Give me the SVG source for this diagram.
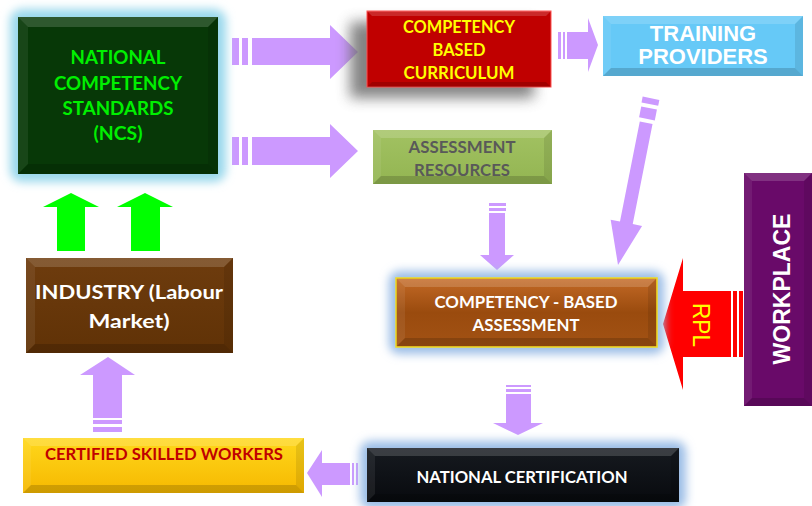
<svg xmlns="http://www.w3.org/2000/svg" width="812" height="506" viewBox="0 0 812 506">
  <defs>
    <filter id="glow" x="-30%" y="-30%" width="160%" height="160%">
      <feGaussianBlur stdDeviation="5"/>
    </filter>
    <filter id="shadow" x="-30%" y="-40%" width="160%" height="180%">
      <feGaussianBlur stdDeviation="7"/>
    </filter>
    <linearGradient id="gCba" x1="0" y1="0" x2="0" y2="1">
      <stop offset="0" stop-color="#c46a26"/>
      <stop offset="0.5" stop-color="#9a4b0e"/>
      <stop offset="1" stop-color="#a25214"/>
    </linearGradient>
    <linearGradient id="gCert" x1="0" y1="0" x2="0" y2="1">
      <stop offset="0" stop-color="#ffd81c"/>
      <stop offset="1" stop-color="#f6b800"/>
    </linearGradient>
    <linearGradient id="gInd" x1="0" y1="0" x2="0" y2="1">
      <stop offset="0" stop-color="#6e3c0e"/>
      <stop offset="1" stop-color="#603206"/>
    </linearGradient>
    <linearGradient id="gRes" x1="0" y1="0" x2="0" y2="1">
      <stop offset="0" stop-color="#a2c262"/>
      <stop offset="1" stop-color="#93b552"/>
    </linearGradient>
    <linearGradient id="gNat" x1="0" y1="0" x2="0" y2="1">
      <stop offset="0" stop-color="#161a20"/>
      <stop offset="1" stop-color="#080a0e"/>
    </linearGradient>
  </defs>
  <style>
    .bt { fill: #ffffff; opacity: 0.16; }
    .bl { fill: #ffffff; opacity: 0.07; }
    .br { fill: #000000; opacity: 0.09; }
    .bb { fill: #000000; opacity: 0.16; }
    .cal { font-family: Lato, "Open Sans", "Liberation Sans", sans-serif; font-weight: bold; text-anchor: middle; }
    .ari { font-family: "Liberation Sans", Arial, sans-serif; font-weight: bold; text-anchor: middle; }
    .flow { fill: #cc99ff; }
    .green { fill: #00ff00; }
  </style>

  <rect width="812" height="506" fill="#ffffff"/>

  <!-- connectors -->
  <g id="connectors">
    <!-- NCS to curriculum -->
    <g class="flow">
      <rect x="232" y="38" width="7" height="27"/>
      <rect x="242" y="38" width="6" height="27"/>
      <polygon points="252,38 330,38 330,25 358,52 330,79 330,65 252,65"/>
    </g>
    <!-- NCS to assessment resources -->
    <g class="flow">
      <rect x="232" y="137" width="7" height="28"/>
      <rect x="242" y="137" width="6" height="28"/>
      <polygon points="252,137 330,137 330,124 358,151 330,178 330,165 252,165"/>
    </g>
    <!-- curriculum to training providers -->
    <g class="flow">
      <rect x="558" y="32" width="3" height="27"/>
      <rect x="563" y="32" width="2" height="27"/>
      <polygon points="567,32 588,32 588,18 598,45 588,72 588,59 567,59"/>
    </g>
    <!-- training providers to assessment -->
    <g class="flow" transform="translate(618,265) rotate(11.2)">
      <rect x="-8.5" y="-170" width="17" height="6"/>
      <rect x="-8" y="-160" width="16" height="11"/>
      <polygon points="0,0 -16,-43 -6.5,-43 -6.5,-145 6.5,-145 6.5,-43 16,-43"/>
    </g>
    <!-- assessment resources to assessment -->
    <g class="flow">
      <rect x="489" y="203" width="17" height="3"/>
      <rect x="489" y="208" width="17" height="3"/>
      <polygon points="489,213 505,213 505,255 514,255 497,270 480,255 489,255"/>
    </g>
    <!-- assessment to national certification -->
    <g class="flow">
      <rect x="506" y="385" width="25" height="2"/>
      <rect x="506" y="389" width="25" height="3"/>
      <polygon points="506,394 531,394 531,423 543,423 518,435 493,423 506,423"/>
    </g>
    <!-- national certification to certified workers -->
    <g class="flow">
      <rect x="356" y="463" width="2" height="22"/>
      <rect x="352" y="463" width="2" height="22"/>
      <polygon points="350,463 322,463 322,450 307,473 322,497 322,485 350,485"/>
    </g>
    <!-- certified workers to industry -->
    <g class="flow">
      <rect x="93" y="420" width="29" height="4"/>
      <rect x="93" y="427" width="29" height="5"/>
      <polygon points="93,418 93,375 80,375 108,357 135,375 122,375 122,418"/>
    </g>
    <!-- industry to NCS -->
    <polygon class="green" points="57,251 57,207 43,207 71,193 99,207 85,207 85,251"/>
    <polygon class="green" points="131,251 131,207 117,207 145,193 173,207 160,207 160,251"/>
    <!-- RPL: workplace to assessment -->
    <g fill="#ff0000">
      <rect x="739" y="291" width="4" height="66"/>
      <rect x="733" y="291" width="4" height="66"/>
      <polygon points="663,324 683,258 683,291 731,291 731,357 683,357 683,390"/>
    </g>
    <text x="693" y="325" transform="rotate(90 693 325)" font-family="'Liberation Sans', Arial, sans-serif" font-size="24" fill="#ffff00" text-anchor="middle" textLength="44" lengthAdjust="spacingAndGlyphs">RPL</text>
  </g>

  <!-- National Competency Standards -->
  <g id="ncs">
    <rect x="10" y="9" width="216" height="173" rx="12" fill="#9ad8ec" filter="url(#glow)"/>
    <rect x="18" y="17" width="200" height="157" fill="#073807"/>
    <polygon class="bt" points="18,17 218,17 208,27 28,27"/>
    <polygon class="bl" points="18,17 28,27 28,164 18,174"/>
    <polygon class="br" points="218,17 208,27 208,164 218,174"/>
    <polygon class="bb" points="18,174 218,174 208,164 28,164"/>
    <g class="cal" font-size="18" fill="#00f000">
      <text x="118" y="64" textLength="95" lengthAdjust="spacingAndGlyphs">NATIONAL</text>
      <text x="118" y="90" textLength="128" lengthAdjust="spacingAndGlyphs">COMPETENCY</text>
      <text x="118" y="115" textLength="111" lengthAdjust="spacingAndGlyphs">STANDARDS</text>
      <text x="118" y="140" textLength="49" lengthAdjust="spacingAndGlyphs">(NCS)</text>
    </g>
  </g>

  <!-- Competency Based Curriculum -->
  <g id="curriculum">
    <rect x="350" y="22" width="184" height="76" fill="#6e6e6e" opacity="0.85" filter="url(#shadow)"/>
    <rect x="367" y="11" width="184" height="76" fill="#c00000" stroke="#ff5050" stroke-width="1"/>
    <polygon class="bt" points="367,11 551,11 546,16 372,16"/>
    <polygon class="bb" points="367,87 551,87 546,82 372,82"/>
    <g class="cal" font-size="16.5" fill="#ffff00">
      <text x="459" y="33" textLength="112" lengthAdjust="spacingAndGlyphs">COMPETENCY</text>
      <text x="459" y="56" textLength="53" lengthAdjust="spacingAndGlyphs">BASED</text>
      <text x="459" y="79" textLength="111" lengthAdjust="spacingAndGlyphs">CURRICULUM</text>
    </g>
  </g>

  <!-- Training Providers -->
  <g id="training">
    <rect x="603" y="16" width="200" height="60" fill="#66c9f7"/>
    <polygon class="bt" points="603,16 803,16 795,24 611,24"/>
    <polygon class="bl" points="603,16 611,24 611,68 603,76"/>
    <polygon class="br" points="803,16 795,24 795,68 803,76"/>
    <polygon class="bb" points="603,76 803,76 795,68 611,68"/>
    <g class="ari" font-size="22" fill="#ffffff">
      <text x="703" y="41">TRAINING</text>
      <text x="703" y="64">PROVIDERS</text>
    </g>
  </g>

  <!-- Assessment Resources -->
  <g id="resources">
    <rect x="373" y="130" width="179" height="54" fill="url(#gRes)"/>
    <polygon class="bt" points="373,130 552,130 544,138 381,138"/>
    <polygon class="bl" points="373,130 381,138 381,176 373,184"/>
    <polygon class="br" points="552,130 544,138 544,176 552,184"/>
    <polygon class="bb" points="373,184 552,184 544,176 381,176"/>
    <g class="cal" font-size="17" fill="#595959">
      <text x="462" y="153" textLength="107" lengthAdjust="spacingAndGlyphs">ASSESSMENT</text>
      <text x="462" y="176" textLength="96" lengthAdjust="spacingAndGlyphs">RESOURCES</text>
    </g>
  </g>

  <!-- Competency-Based Assessment -->
  <g id="assessment">
    <rect x="389" y="271" width="275" height="83" rx="10" fill="#9bbde6" filter="url(#glow)"/>
    <rect x="396" y="278" width="261" height="69" fill="url(#gCba)" stroke="#f0dc20" stroke-width="1.5"/>
    <polygon class="bt" points="397,279 656,279 648,287 405,287"/>
    <polygon class="bl" points="397,279 405,287 405,338 397,346"/>
    <polygon class="br" points="656,279 648,287 648,338 656,346"/>
    <polygon class="bb" points="397,346 656,346 648,338 405,338"/>
    <g class="cal" font-size="17" fill="#ffffff">
      <text x="526" y="308" textLength="183" lengthAdjust="spacingAndGlyphs">COMPETENCY - BASED</text>
      <text x="526" y="331" textLength="107" lengthAdjust="spacingAndGlyphs">ASSESSMENT</text>
    </g>
  </g>

  <!-- Workplace -->
  <g id="workplace">
    <rect x="744" y="173" width="68" height="233" fill="#690a69"/>
    <polygon class="bt" points="744,173 812,173 804,181 752,181"/>
    <polygon class="bl" points="744,173 752,181 752,398 744,406"/>
    <polygon class="br" points="812,173 804,181 804,398 812,406"/>
    <polygon class="bb" points="744,406 812,406 804,398 752,398"/>
    <text class="ari" x="790" y="289" transform="rotate(-90 790 289)" font-size="23" fill="#ffffff">WORKPLACE</text>
  </g>

  <!-- Industry (Labour Market) -->
  <g id="industry">
    <rect x="26" y="258" width="207" height="95" fill="url(#gInd)"/>
    <polygon class="bt" points="26,258 233,258 224,267 35,267"/>
    <polygon class="bl" points="26,258 35,267 35,344 26,353"/>
    <polygon class="br" points="233,258 224,267 224,344 233,353"/>
    <polygon class="bb" points="26,353 233,353 224,344 35,344"/>
    <g class="cal" font-size="18.5" fill="#ffffff">
      <text x="129" y="299" textLength="188" lengthAdjust="spacingAndGlyphs">INDUSTRY (Labour</text>
      <text x="129" y="328" textLength="81" lengthAdjust="spacingAndGlyphs">Market)</text>
    </g>
  </g>

  <!-- Certified Skilled Workers -->
  <g id="certified">
    <rect x="23" y="438" width="281" height="55" fill="url(#gCert)"/>
    <polygon class="bt" points="23,438 304,438 296,446 31,446"/>
    <polygon class="bl" points="23,438 31,446 31,485 23,493"/>
    <polygon class="br" points="304,438 296,446 296,485 304,493"/>
    <polygon class="bb" points="23,493 304,493 296,485 31,485"/>
    <text class="cal" x="164" y="460" font-size="17" fill="#c00000" textLength="238" lengthAdjust="spacingAndGlyphs">CERTIFIED SKILLED WORKERS</text>
  </g>

  <!-- National Certification -->
  <g id="certification">
    <rect x="360" y="441" width="326" height="68" rx="10" fill="#9bbde6" filter="url(#glow)"/>
    <rect x="367" y="448" width="312" height="54" fill="url(#gNat)"/>
    <polygon class="bt" points="367,448 679,448 671,456 375,456"/>
    <polygon class="bl" points="367,448 375,456 375,494 367,502"/>
    <polygon class="br" points="679,448 671,456 671,494 679,502"/>
    <polygon class="bb" points="367,502 679,502 671,494 375,494"/>
    <text class="cal" x="522" y="483" font-size="17.5" fill="#ffffff" textLength="211" lengthAdjust="spacingAndGlyphs">NATIONAL CERTIFICATION</text>
  </g>
</svg>
